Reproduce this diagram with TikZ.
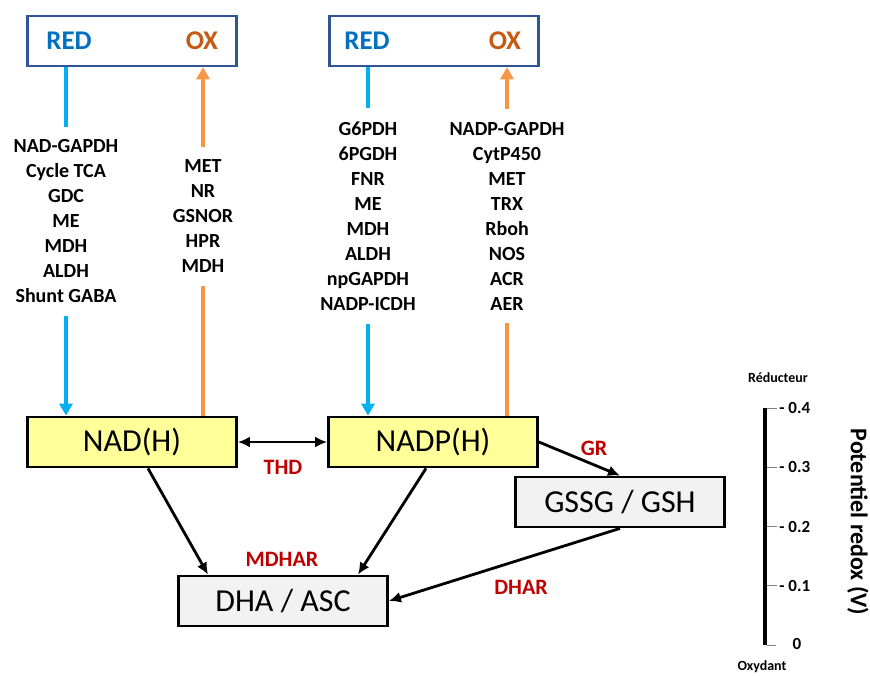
\documentclass[tikz,border=0pt]{standalone}
\usepackage{fontspec}
\setmainfont{Carlito}
\usepackage{tikz}
\usetikzlibrary{arrows.meta,positioning,calc}
\definecolor{bleuRED}{HTML}{0070C0}
\definecolor{brunOX}{HTML}{C55A11}
\definecolor{bordCadre}{HTML}{2F5597}
\definecolor{bleuFl}{HTML}{00B0F0}
\definecolor{orangeFl}{HTML}{F79646}
\definecolor{jaune}{HTML}{FFFF99}
\definecolor{grisClair}{HTML}{F2F2F2}
\definecolor{rougeEnz}{HTML}{C00000}
\tikzset{
  cadre/.style={draw=bordCadre,line width=2.5pt,minimum width=209pt,minimum height=50pt,inner sep=0pt},
  etatRED/.style={text=bleuRED,font=\bfseries\fontsize{27}{31}\selectfont,inner sep=0pt},
  etatOX/.style={text=brunOX,font=\bfseries\fontsize{27}{31}\selectfont,inner sep=0pt},
  liste/.style={align=center,inner xsep=2pt,inner ysep=13pt,font=\bfseries\fontsize{20}{25}\selectfont},
  pool/.style={draw=black,line width=2.8pt,minimum width=209pt,minimum height=50pt,inner sep=0pt,font=\fontsize{32}{38}\selectfont},
  nad/.style={pool,fill=jaune},
  redox/.style={pool,fill=grisClair},
  enzyme/.style={text=rougeEnz,font=\bfseries\fontsize{22}{26}\selectfont,inner sep=0pt},
  flBleue/.style={draw=bleuFl,line width=4pt},
  flOrange/.style={draw=orangeFl,line width=4pt},
  pointe/.style={-{Triangle[length=12pt,width=13pt]}},
  flNoire/.style={line width=2.8pt,-{Latex[length=12pt,width=11pt]}},
  echelle/.style={text=black,font=\bfseries\fontsize{17}{20}\selectfont,inner sep=0pt}
}
\begin{document}
\begin{tikzpicture}[x=1pt,y=-1pt]
\useasboundingbox(0,0)rectangle(870,675);
% cadres RED / OX
\node[cadre](C1)at(132,41){};
\node[etatRED](R1)at(69,41){RED};
\node[etatOX](O1)at(202,41){OX};
\node[cadre](C2)at(434,41){};
\node[etatRED](R2)at(367,41){RED};
\node[etatOX](O2)at(505,41){OX};
% listes d'enzymes
\node[liste](L1)at(66,221.5){NAD-GAPDH\\Cycle TCA\\GDC\\ME\\MDH\\ALDH\\Shunt GABA};
\node[liste](L2)at(203,216.5){MET\\NR\\GSNOR\\HPR\\MDH};
\node[liste](L3)at(368,216){G6PDH\\6PGDH\\FNR\\ME\\MDH\\ALDH\\npGAPDH\\NADP-ICDH};
\node[liste](L4)at(507,216){NADP-GAPDH\\CytP450\\MET\\TRX\\Rboh\\NOS\\ACR\\AER};
% pools
\node[nad](N1)at(132,442){NAD(H)};
\node[nad](N2)at(433,442){NADP(H)};
\node[redox](G)at(620,502){GSSG / GSH};
\node[redox](A)at(283,601){DHA / ASC};
% fleches RED/OX
\draw[flBleue](C1.south-|L1)--(L1.north);
\draw[flBleue,pointe](L1.south)--(L1.south|-N1.north);
\draw[flOrange](N1.north-|L2)--(L2.south);
\draw[flOrange,pointe](L2.north)--(L2.north|-C1.south);
\draw[flBleue](C2.south-|L3)--(L3.north);
\draw[flBleue,pointe](L3.south)--(L3.south|-N2.north);
\draw[flOrange](N2.north-|L4)--(L4.south);
\draw[flOrange,pointe](L4.north)--(L4.north|-C2.south);
% reactions
\draw[flNoire,{Latex[length=12pt,width=11pt]}-{Latex[length=12pt,width=11pt]}](N1.east)--(N2.west);
\node[enzyme](THD)at(283,467){THD};
\draw[flNoire]([xshift=16pt]N1.south)--([xshift=-75pt]A.north);
\draw[flNoire]([xshift=-7pt]N2.south)--([xshift=75pt]A.north);
\node[enzyme](MDHAR)at(282,559){MDHAR};
\draw[flNoire](N2.east)--(G.north);
\node[enzyme](GR)at(594,448){GR};
\draw[flNoire](G.south)--(A.east);
\node[enzyme](DHAR)at(521,587){DHAR};
% echelle de potentiel
\draw[line width=4pt](765,408)--(765,645);
\foreach \v [count=\i from 0] in {0.4,0.3,0.2,0.1}{
  \draw[gray,line width=0.8pt](767,408+59.25*\i)--++(10,0)node[echelle,right=2pt](T\i){- \v};
}
\draw[gray,line width=0.8pt](767,645)--++(9,0);
\node[echelle](T4)at(797,644){0};
\node[echelle,font=\bfseries\fontsize{14}{17}\selectfont](Red)at(778,378){Réducteur};
\node[echelle,font=\bfseries\fontsize{14}{17}\selectfont](Ox)at(762,667){Oxydant};
\node[rotate=-90,font=\bfseries\fontsize{24}{28}\selectfont,inner sep=0pt](Pot)at(858,522){Potentiel redox (V)};
\end{tikzpicture}
\end{document}
